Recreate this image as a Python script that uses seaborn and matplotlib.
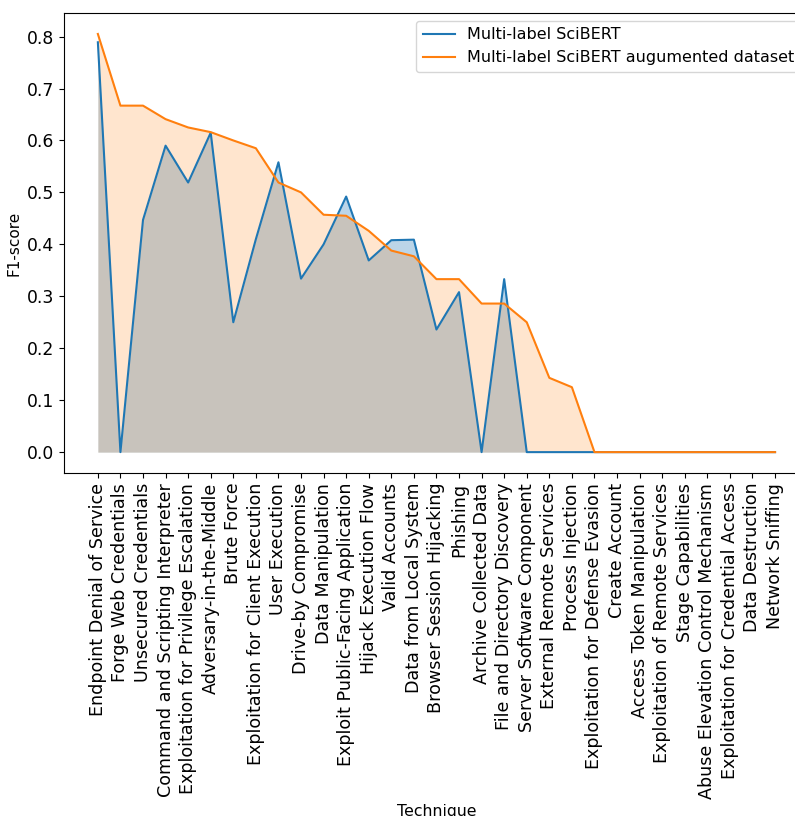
import matplotlib
matplotlib.use("Agg")
import matplotlib.pyplot as plt
import seaborn as sns
import numpy as np
import pandas as pd

techniques = [
    "Endpoint Denial of Service", "Forge Web Credentials", "Unsecured Credentials",
    "Command and Scripting Interpreter", "Exploitation for Privilege Escalation",
    "Adversary-in-the-Middle", "Brute Force", "Exploitation for Client Execution",
    "User Execution", "Drive-by Compromise", "Data Manipulation",
    "Exploit Public-Facing Application", "Hijack Execution Flow", "Valid Accounts",
    "Data from Local System", "Browser Session Hijacking", "Phishing",
    "Archive Collected Data", "File and Directory Discovery",
    "Server Software Component", "External Remote Services", "Process Injection",
    "Exploitation for Defense Evasion", "Create Account",
    "Access Token Manipulation", "Exploitation of Remote Services",
    "Stage Capabilities", "Abuse Elevation Control Mechanism",
    "Exploitation for Credential Access", "Data Destruction", "Network Sniffing",
]

scibert = [0.789, 0.0, 0.447, 0.590, 0.519, 0.615, 0.250, 0.410, 0.558, 0.334,
           0.400, 0.492, 0.369, 0.408, 0.409, 0.236, 0.308, 0.0, 0.333, 0.0,
           0.0, 0.0, 0.0, 0.0, 0.0, 0.0, 0.0, 0.0, 0.0, 0.0, 0.0]

scibert_aug = [0.805, 0.667, 0.667, 0.641, 0.625, 0.616, 0.600, 0.585, 0.519, 0.500,
               0.457, 0.455, 0.426, 0.388, 0.377, 0.333, 0.333, 0.286, 0.286, 0.250,
               0.143, 0.125, 0.0, 0.0, 0.0, 0.0, 0.0, 0.0, 0.0, 0.0, 0.0]

series_names = ["Multi-label SciBERT", "Multi-label SciBERT augumented dataset"]

pos = np.arange(len(techniques))
df = pd.DataFrame({"pos": pos, "a": scibert, "b": scibert_aug})

fig = plt.figure(figsize=(7.95, 8.16), dpi=100)
ax = fig.add_axes([0.0805, 0.4203, 0.937, 0.5637])

blue = "#1f77b4"
orange = "#ff7f0e"

sns.lineplot(data=df, x="pos", y="a", ax=ax, color=blue, linewidth=1.5,
             label=series_names[0])
ax.fill_between(df["pos"], df["a"], color=blue, alpha=0.3, linewidth=0)
sns.lineplot(data=df, x="pos", y="b", ax=ax, color=orange, linewidth=1.5,
             label=series_names[1])
ax.fill_between(df["pos"], df["b"], color=orange, alpha=0.2, linewidth=0)

ax.set_xticks(pos)
ax.set_xticklabels(techniques, rotation=90, fontsize=12.6)
ax.tick_params(axis="y", labelsize=12.4)
ax.set_yticks([0.0, 0.1, 0.2, 0.3, 0.4, 0.5, 0.6, 0.7, 0.8])
ax.set_ylabel("F1-score", fontsize=11)
ax.set_xlabel("Technique", fontsize=11.3)
ax.legend(loc="upper right", fontsize=11.5)

fig.savefig("out.png", dpi=100)
